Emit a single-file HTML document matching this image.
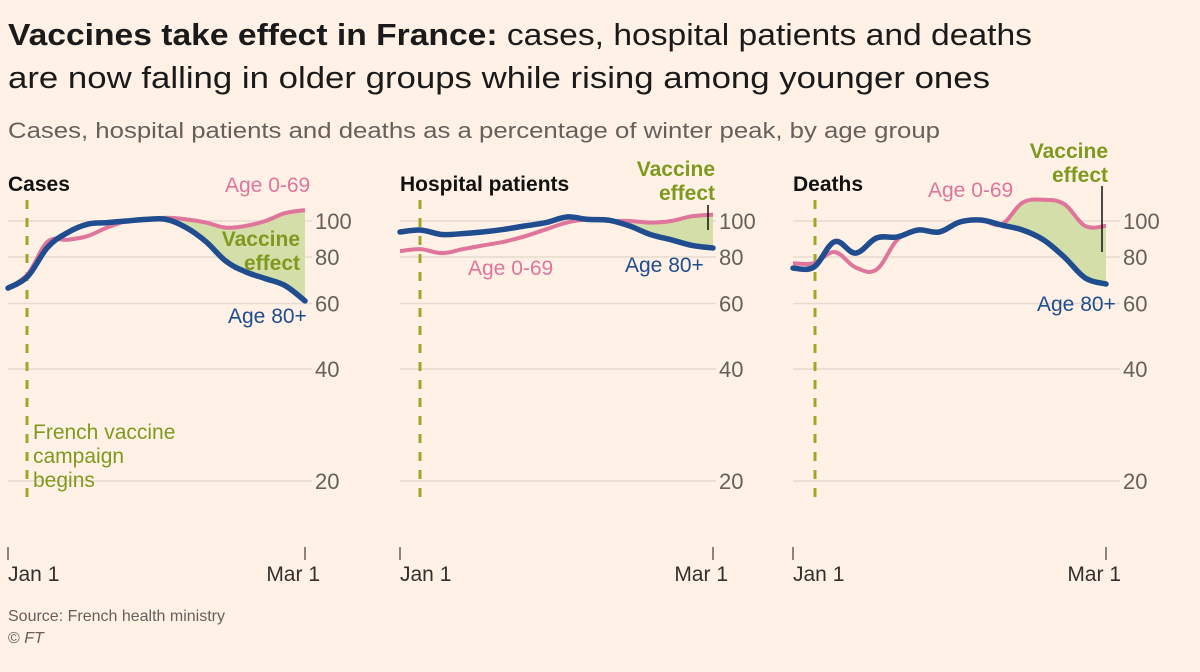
<!DOCTYPE html>
<html><head><meta charset="utf-8"><style>
body{margin:0;background:#fff1e5;}
svg{display:block;font-family:"Liberation Sans","DejaVu Sans",sans-serif;}
</style></head><body>
<svg id="chart" width="1200" height="672" viewBox="0 0 1200 672">
<rect width="1200" height="672" fill="#fff1e5"/>
<text x="8" y="45" font-size="31" fill="#1a1a1a" textLength="1024" lengthAdjust="spacingAndGlyphs"><tspan font-weight="bold">Vaccines take effect in France:</tspan> cases, hospital patients and deaths</text>
<text x="8" y="88" font-size="31" fill="#1a1a1a" textLength="982" lengthAdjust="spacingAndGlyphs">are now falling in older groups while rising among younger ones</text>
<text x="8" y="138" font-size="22" fill="#66605c" textLength="932" lengthAdjust="spacingAndGlyphs">Cases, hospital patients and deaths as a percentage of winter peak, by age group</text>
<g id="panels"></g>
<text x="8" y="621" font-size="16" fill="#66605c">Source: French health ministry</text>
<text x="8" y="643" font-size="16" fill="#66605c">© <tspan font-style="italic">FT</tspan></text>
</svg>
<script>
const ticks = [100, 80, 60, 40, 20];
const tickLabels = ["100", "80", "60", "40", "20"];
const xLabels = ["Jan 1", "Mar 1"];
const panelTitles = ["Cases", "Hospital patients", "Deaths"];
const casesOld = [66, 71, 85, 93, 98, 99, 100, 101, 101, 96, 88, 78, 73, 70, 67, 61];
const casesYoung = [66, 72, 88, 89, 91, 96, 100, 101, 102, 101, 99, 96, 97, 100, 105, 107];
const hospOld = [93.4, 94.5, 92, 92.5, 93.5, 95, 97, 99, 102.5, 101, 100.5, 97, 92, 89, 86, 84.6];
const hospYoung = [83, 84, 82, 84, 86, 88, 91, 95, 99, 101, 100, 100, 99, 100, 103, 104];
const deathsOld = [74.7, 75.2, 88, 82, 90, 90.6, 94.6, 93.4, 99.4, 100.6, 97.5, 94.6, 89, 80, 70.3, 67.7];
const deathsYoung = [77, 77, 82.5, 75, 74, 89, 94.6, 93.4, 99.4, 100.6, 98, 112, 114, 111, 97, 97];
const fillStarts = [8, 10, 9];

const NS = "http://www.w3.org/2000/svg";
const root = document.getElementById("panels");
function el(tag, attrs, parent, text){
  const e = document.createElementNS(NS, tag);
  for (const k in attrs) e.setAttribute(k, attrs[k]);
  if (text !== undefined) e.textContent = text;
  parent.appendChild(e);
  return e;
}
function yScale(v){ return 221 + 372 * Math.log10(100 / v); }
function smooth(pts){
  let d = "M" + pts[0][0].toFixed(1) + "," + pts[0][1].toFixed(1);
  for (let i = 0; i < pts.length - 1; i++) {
    const p0 = pts[Math.max(0, i - 1)], p1 = pts[i], p2 = pts[i + 1], p3 = pts[Math.min(pts.length - 1, i + 2)];
    const t = 0.18;
    const c1x = p1[0] + (p2[0] - p0[0]) * t, c1y = p1[1] + (p2[1] - p0[1]) * t;
    const c2x = p2[0] - (p3[0] - p1[0]) * t, c2y = p2[1] - (p3[1] - p1[1]) * t;
    d += " C" + c1x.toFixed(1) + "," + c1y.toFixed(1) + " " + c2x.toFixed(1) + "," + c2y.toFixed(1) + " " + p2[0].toFixed(1) + "," + p2[1].toFixed(1);
  }
  return d;
}
const panels = [
  {x0: 8, x1: 305, gEnd: 312, lx: 315, old: casesOld, young: casesYoung, vx: 27},
  {x0: 400, x1: 713, gEnd: 716, lx: 719, old: hospOld, young: hospYoung, vx: 420},
  {x0: 793, x1: 1106, gEnd: 1120, lx: 1123, old: deathsOld, young: deathsYoung, vx: 815}
];
const pink = "#e0759b", blue = "#1f4d8f", green = "#7e9a1e";
panels.forEach((p, pi) => {
  const g = el("g", {}, root);
  
  
  const xs = i => p.x0 + i * (p.x1 - p.x0) / (p.old.length - 1);
  ticks.forEach((t, ti) => {
    const y = yScale(t);
    const gl = el("line", {x1: p.x0, x2: p.gEnd, y1: y, y2: y, stroke: "#e6dbd0", "stroke-width": 1.5}, g);
    
    
    const tl = el("text", {x: p.lx, y: y + 8, "font-size": 22, fill: "#66605c"}, g, tickLabels[ti]);
    
    
  });
  const tt = el("text", {x: p.x0, y: 191, "font-size": 21, "font-weight": "bold", fill: "#111"}, g, panelTitles[pi]);
  
  
  const vl = el("line", {x1: p.vx, x2: p.vx, y1: 200, y2: 498, stroke: "#a3a52a", "stroke-width": 3, "stroke-dasharray": "9,9"}, g);
  
  
  [p.x0, p.x1].forEach((x, xi) => {
    const tk = el("line", {x1: x, x2: x, y1: 547, y2: 560, stroke: "#66605c", "stroke-width": 1.5}, g);
    
    
    const lb = el("text", {x: xi ? x + 15 : x, y: 581, "font-size": 21, fill: "#33302e", "text-anchor": xi ? "end" : "start"}, g, xLabels[xi]);
    
    
  });
  const s = fillStarts[pi];
  let pts = [];
  for (let i = s; i < p.old.length; i++) pts.push(xs(i) + "," + yScale(Math.max(p.young[i], p.old[i])));
  for (let i = p.old.length - 1; i >= s; i--) pts.push(xs(i) + "," + yScale(p.old[i]));
  const fl = el("polygon", {points: pts.join(" "), fill: "#d3dea8"}, g);
  
  
  const path = arr => smooth(arr.map((v, i) => [xs(i), yScale(v)]));
  const ly = el("path", {d: path(p.young), fill: "none", stroke: pink, "stroke-width": 4, "stroke-linejoin": "round"}, g);
  
  
  const lo = el("path", {d: path(p.old), fill: "none", stroke: blue, "stroke-width": 5.5, "stroke-linejoin": "round", "stroke-linecap": "round"}, g);
  
  
});
function label(x, y, txt, color, name, bold, anchor){
  const t = el("text", {x: x, y: y, "font-size": 21, fill: color, "font-weight": bold ? "bold" : "normal", "text-anchor": anchor || "start"}, root, txt);
  
  
}
label(225, 192, "Age 0-69", pink, "cases-young-label");
label(300, 246, "Vaccine", green, "cases-vaccine-label", true, "end");
label(300, 270, "effect", green, "cases-effect-label", true, "end");
label(228, 323, "Age 80+", blue, "cases-old-label");
label(33, 439, "French vaccine", green, "campaign-label-1");
label(33, 463, "campaign", green, "campaign-label-2");
label(33, 487, "begins", green, "campaign-label-3");
label(715, 176, "Vaccine", green, "hosp-vaccine-label", true, "end");
label(715, 200, "effect", green, "hosp-effect-label", true, "end");
label(468, 275, "Age 0-69", pink, "hosp-young-label");
label(625, 272, "Age 80+", blue, "hosp-old-label");
label(928, 197, "Age 0-69", pink, "deaths-young-label");
label(1108, 158, "Vaccine", green, "deaths-vaccine-label", true, "end");
label(1108, 182, "effect", green, "deaths-effect-label", true, "end");
label(1037, 311, "Age 80+", blue, "deaths-old-label");
const p1 = el("line", {x1: 708, x2: 708, y1: 205, y2: 230, stroke: "#111", "stroke-width": 1.5}, root);


const p2 = el("line", {x1: 1102, x2: 1102, y1: 186, y2: 252, stroke: "#111", "stroke-width": 1.5}, root);


</script>
</body></html>
